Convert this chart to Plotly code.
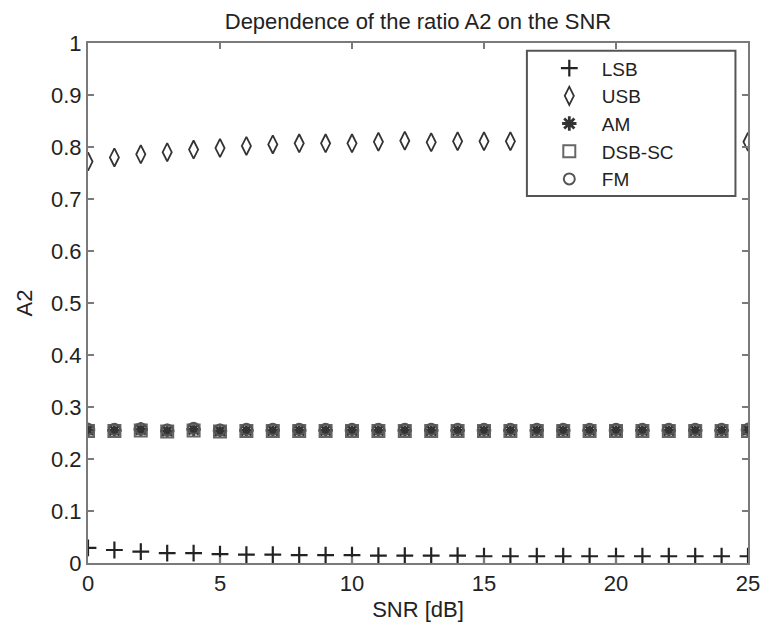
import plotly.graph_objects as go

snr = list(range(0, 26))

lsb = [0.029, 0.025, 0.022, 0.019, 0.019, 0.017, 0.016, 0.016, 0.015, 0.015,
       0.015, 0.014, 0.014, 0.014, 0.014, 0.013, 0.013, 0.013, 0.013, 0.013,
       0.013, 0.013, 0.013, 0.013, 0.013, 0.013]
usb = [0.772, 0.780, 0.786, 0.790, 0.795, 0.798, 0.802, 0.805, 0.807, 0.807,
       0.807, 0.810, 0.812, 0.809, 0.811, 0.811, 0.811, 0.811, 0.811, 0.811,
       0.811, 0.811, 0.811, 0.811, 0.811, 0.810]
am = [0.256, 0.255, 0.257, 0.254, 0.257, 0.254, 0.255, 0.255, 0.255, 0.255,
      0.255, 0.255, 0.255, 0.255, 0.255, 0.255, 0.255, 0.255, 0.255, 0.255,
      0.255, 0.255, 0.255, 0.255, 0.255, 0.256]
dsb_sc = [0.254, 0.254, 0.255, 0.253, 0.255, 0.253, 0.254, 0.254, 0.254, 0.254,
          0.254, 0.254, 0.254, 0.254, 0.254, 0.254, 0.254, 0.254, 0.254, 0.254,
          0.254, 0.254, 0.254, 0.254, 0.254, 0.254]
fm = [0.257, 0.257, 0.258, 0.256, 0.259, 0.256, 0.257, 0.257, 0.257, 0.257,
      0.257, 0.257, 0.257, 0.257, 0.257, 0.257, 0.257, 0.257, 0.257, 0.257,
      0.257, 0.257, 0.257, 0.257, 0.257, 0.257]

x_ticks = [0, 5, 10, 15, 20, 25]
y_ticks = [0, 0.1, 0.2, 0.3, 0.4, 0.5, 0.6, 0.7, 0.8, 0.9, 1]
y_labels = ["0", "0.1", "0.2", "0.3", "0.4", "0.5", "0.6", "0.7", "0.8", "0.9", "1"]

FONT = "Liberation Sans, Arial, sans-serif"
TXT = "#222"

fig = go.Figure()
fig.add_trace(go.Scatter(x=snr, y=lsb, mode="markers", name="LSB",
                         marker=dict(symbol="cross-thin-open", size=12, color="#222",
                                     line=dict(color="#222", width=2.2))))
fig.add_trace(go.Scatter(x=snr, y=usb, mode="markers", name="USB",
                         marker=dict(symbol="diamond-tall-open", size=13, color="#333",
                                     line=dict(color="#333", width=1.8))))
fig.add_trace(go.Scatter(x=snr, y=am, mode="markers", name="AM",
                         marker=dict(symbol="asterisk-open", size=12, color="#333",
                                     line=dict(color="#333", width=2.8))))
fig.add_trace(go.Scatter(x=snr, y=dsb_sc, mode="markers", name="DSB-SC",
                         marker=dict(symbol="square-open", size=12, color="#666",
                                     line=dict(color="#666", width=2))))
fig.add_trace(go.Scatter(x=snr, y=fm, mode="markers", name="FM",
                         marker=dict(symbol="circle-open", size=11, color="#555",
                                     line=dict(color="#555", width=2))))

axis_common = dict(
    showline=True, linecolor="#7a7a7a", linewidth=2, mirror="ticks",
    ticks="inside", ticklen=6, tickcolor="#7a7a7a", tickwidth=1.5,
    showgrid=False, zeroline=False,
    tickfont=dict(family=FONT, size=22, color=TXT),
)

fig.update_xaxes(range=[0, 25], tickvals=x_ticks, ticktext=[str(v) for v in x_ticks],
                 title=dict(text="SNR [dB]", font=dict(family=FONT, size=22, color=TXT),
                            standoff=6),
                 **axis_common)
fig.update_yaxes(range=[0, 1], tickvals=y_ticks, ticktext=y_labels,
                 title=dict(text="A2", font=dict(family=FONT, size=22, color=TXT),
                            standoff=12),
                 **axis_common)

# legend frame: white box drawn over the data, legend entries placed inside it
fig.add_shape(type="rect", xref="paper", yref="paper",
              x0=0.665, x1=0.981, y0=0.706, y1=0.985,
              fillcolor="white", line=dict(color="#555", width=2), layer="above")

fig.update_layout(
    width=772, height=637,
    margin=dict(l=88, r=16, t=43, b=74),
    paper_bgcolor="white", plot_bgcolor="white",
    title=dict(text="Dependence of the ratio A2 on the SNR", x=0.5, xanchor="center",
               xref="paper", y=0.967, yanchor="middle",
               font=dict(family=FONT, size=22, color=TXT)),
    showlegend=True,
    legend=dict(x=0.68, y=0.988, xanchor="left", yanchor="top",
                bgcolor="rgba(0,0,0,0)", borderwidth=0,
                font=dict(family=FONT, size=19, color=TXT),
                itemwidth=55, tracegroupgap=0),
)

fig.write_html("out.html")
